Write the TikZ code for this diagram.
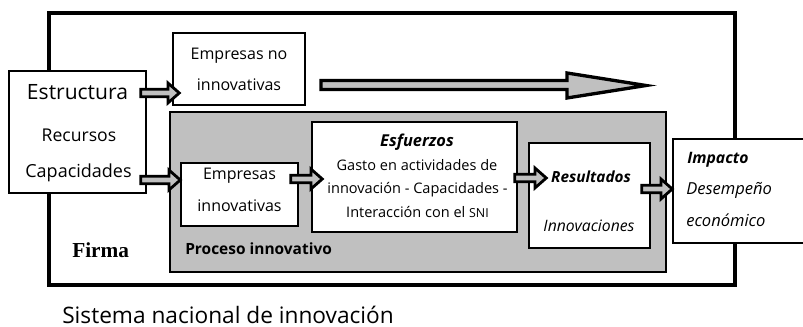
\documentclass[tikz,border=0pt]{standalone}
\usepackage{fontspec}
\setmainfont{Open Sans}
\newfontfamily\firmafont{Liberation Serif}
\usetikzlibrary{calc}
\definecolor{grisfl}{RGB}{192,192,192}
\tikzset{
  caja/.style={draw=black, line width=1.1pt, fill=white},
  tam/.style 2 args={minimum width=#1*0.75pt, minimum height=#2*0.75pt},
  txt/.style={anchor=base, inner sep=0pt},
  bloque/.style={draw=black, line width=2.1pt, fill=grisfl, line join=miter,
    to path={let \p1=(\tikztostart), \p2=(\tikztotarget) in
      (\x1,\y1+2.8pt) -- (\x2-8.5pt,\y1+2.8pt) -- (\x2-8.5pt,\y1+7.5pt) -- (\x2,\y1)
      -- (\x2-8.5pt,\y1-7.5pt) -- (\x2-8.5pt,\y1-2.8pt) -- (\x1,\y1-2.8pt) -- cycle}},
}
\begin{document}
\begin{tikzpicture}[x=0.75pt, y=-0.75pt]
    \useasboundingbox (0,0) rectangle (803,327);
    % firma y proceso innovativo
    \draw[line width=2.6pt] (49,13) rectangle (735,285);
    \draw[fill=grisfl, line width=1.1pt] (170,112) rectangle (666,272);
    % cajas
    \node[caja, tam={137}{122}] (est) at (77.5,132) {};
    \node[caja, tam={132}{72}] (noinn) at (239,69) {};
    \node[caja, tam={117}{63}] (inn) at (239.5,194.5) {};
    \node[caja, tam={205}{110}] (esf) at (414.5,177) {};
    \node[caja, tam={121}{105}] (res) at (589.5,195.5) {};
    \node[caja, tam={133}{104}] (imp) at (739.5,191) {};
    % flecha larga
    \draw[draw=black, line width=2.5pt, fill=grisfl, line join=miter]
        (321,80.5) -- (567,80.5) -- (567,73) -- (646,85.5) -- (567,98) -- (567,89.5) -- (321,89.5) -- cycle;
    % flechas
    \draw[bloque] ([xshift=-4.5pt]est.east |- 0,93) to ([xshift=5.25pt]noinn.west |- 0,93);
    \draw[bloque] ([xshift=-4.5pt]est.east |- 0,180) to (inn.west |- 0,180);
    \draw[bloque] ([xshift=-6pt]inn.east |- 0,179) to ([xshift=8.25pt]esf.west |- 0,179);
    \draw[bloque] ([xshift=-2.25pt]esf.east |- 0,178) to ([xshift=13.5pt]res.west |- 0,178);
    \draw[bloque] ([xshift=-6.75pt]res.east |- 0,189) to (imp.west |- 0,189);
    % textos
    \node[txt, font=\fontsize{15.8}{18}\selectfont] (t1) at (77.5,100) {Estructura};
    \node[txt, font=\fontsize{13.2}{16}\selectfont] (t2) at (79,141.7) {Recursos};
    \node[txt, font=\fontsize{13.5}{16}\selectfont] (t3) at (78.5,178) {Capacidades};
    \node[txt, font=\fontsize{12}{14}\selectfont] (t4) at (239,60) {Empresas no};
    \node[txt, font=\fontsize{12}{14}\selectfont] (t5) at (239,90.7) {innovativas};
    \node[txt, font=\fontsize{12}{14}\selectfont] (t6) at (239.5,180) {Empresas};
    \node[txt, font=\fontsize{12}{14}\selectfont] (t7) at (239.5,211.7) {innovativas};
    \node[txt, font=\fontsize{12.3}{14}\selectfont\bfseries\itshape] (t8) at (417,146.7) {Esfuerzos};
    \node[txt, font=\fontsize{10.9}{13}\selectfont] (t9) at (417,170.7) {Gasto en actividades de};
    \node[txt, font=\fontsize{10.9}{13}\selectfont] (t10) at (417.5,194) {innovación - Capacidades -};
    \node[txt, font=\fontsize{10.9}{13}\selectfont] (t11) at (417.5,218) {Interacción con el {\fontsize{9.3}{11}\selectfont SNI}};
    \node[txt, font=\fontsize{11.5}{14}\selectfont\bfseries\itshape] (t12) at (591,183) {Resultados};
    \node[txt, font=\fontsize{11.8}{14}\selectfont\itshape] (t13) at (589,231.7) {Innovaciones};
    \node[txt, anchor=base west, font=\fontsize{11.8}{14}\selectfont\bfseries\itshape] (t14) at (687,164) {Impacto};
    \node[txt, anchor=base west, font=\fontsize{12.4}{14}\selectfont\itshape] (t15) at (686,195) {Desempeño};
    \node[txt, anchor=base west, font=\fontsize{12.4}{14}\selectfont\itshape] (t16) at (686,226.7) {económico};
    \node[txt, anchor=base west, font=\firmafont\fontsize{16}{18}\selectfont\bfseries] (t17) at (72,258) {Firma};
    \node[txt, anchor=base west, font=\fontsize{11.6}{14}\selectfont\bfseries] (t18) at (185,255) {Proceso innovativo};
    \node[txt, anchor=base west, font=\fontsize{17}{20}\selectfont] (t19) at (62,323.5) {Sistema nacional de innovación};
\end{tikzpicture}
\end{document}
